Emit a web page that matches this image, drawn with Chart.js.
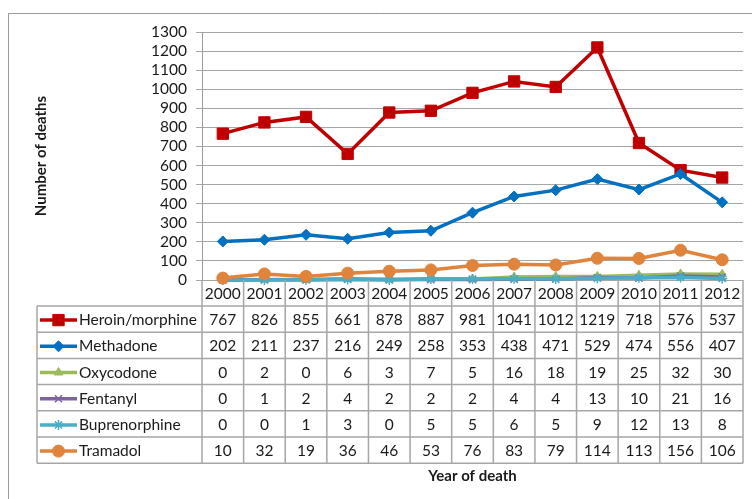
<!DOCTYPE html>
<html>
<head>
<meta charset="utf-8">
<script src="https://cdn.jsdelivr.net/npm/chart.js@4"></script>
<style>
  body { margin: 0; background: #fff; }
  canvas { display: block; }
</style>
</head>
<body>
<canvas id="deathsChart" width="752" height="499"></canvas>
<script>
const years = ['2000', '2001', '2002', '2003', '2004', '2005', '2006', '2007', '2008', '2009', '2010', '2011', '2012'];
const heroin = [767, 826, 855, 661, 878, 887, 981, 1041, 1012, 1219, 718, 576, 537];
const methadone = [202, 211, 237, 216, 249, 258, 353, 438, 471, 529, 474, 556, 407];
const oxycodone = [0, 2, 0, 6, 3, 7, 5, 16, 18, 19, 25, 32, 30];
const fentanyl = [0, 1, 2, 4, 2, 2, 2, 4, 4, 13, 10, 21, 16];
const buprenorphine = [0, 0, 1, 3, 0, 5, 5, 6, 5, 9, 12, 13, 8];
const tramadol = [10, 32, 19, 36, 46, 53, 76, 83, 79, 114, 113, 156, 106];

const seriesNames = ['Heroin/morphine', 'Methadone', 'Oxycodone', 'Fentanyl', 'Buprenorphine', 'Tramadol'];
const seriesValues = [heroin, methadone, oxycodone, fentanyl, buprenorphine, tramadol];
const yMax = 1300;
const yStep = 100;

// Styles
const colors = ['#C00000', '#0070C0', '#9BBB59', '#8064A2', '#4BACC6', '#E0843C'];
const markers = ['rect', 'rectRot', 'triangle', 'crossRot', 'star', 'circle'];
const radii = [8, 5.5, 5, 5, 5, 6];

const FONT = 'Lato, "Open Sans", sans-serif';
const TEXT = '#1a1a1a';
const LINE = '#a6a6a6';

function drawMarker(ctx, i, x, y) {
  ctx.fillStyle = colors[i];
  ctx.strokeStyle = colors[i];
  ctx.lineWidth = (markers[i] === 'crossRot' || markers[i] === 'star') ? 1.5 : 1;
  Chart.helpers.drawPoint(ctx, {
    pointStyle: markers[i], radius: radii[i], rotation: 0, borderWidth: ctx.lineWidth
  }, x, y);
}

// Frame, axis titles and the data table under the plot
const tablePlugin = {
  id: 'dataTable',
  beforeDraw(chart) {
    const ctx = chart.ctx;
    ctx.save();
    ctx.fillStyle = '#fff';
    ctx.fillRect(0, 0, chart.width, chart.height);
    ctx.strokeStyle = '#9a9a9a';
    ctx.lineWidth = 1;
    ctx.beginPath();
    ctx.moveTo(8.5, chart.height);
    ctx.lineTo(8.5, 13.5);
    ctx.lineTo(chart.width, 13.5);
    ctx.stroke();
    ctx.restore();
  },
  afterDraw(chart) {
    const {ctx, chartArea} = chart;
    const x = chart.scales.x;
    const colW = (chartArea.right - chartArea.left) / years.length;
    const headTop = chartArea.bottom;
    const headBottom = 306;
    const rowH = 26.2;
    const tableLeft = 37;
    const tableBottom = headBottom + rowH * seriesNames.length;

    ctx.save();
    ctx.strokeStyle = LINE;
    ctx.lineWidth = 1.5;
    ctx.beginPath();
    // column separators
    for (let i = 0; i <= years.length; i++) {
      const bx = chartArea.left + i * colW;
      ctx.moveTo(bx, headTop);
      ctx.lineTo(bx, tableBottom);
    }
    ctx.moveTo(tableLeft, headBottom);
    ctx.lineTo(tableLeft, tableBottom);
    // row lines
    for (let r = 0; r <= seriesNames.length; r++) {
      const ry = headBottom + r * rowH;
      ctx.moveTo(tableLeft, ry);
      ctx.lineTo(chartArea.right, ry);
    }
    ctx.stroke();

    ctx.font = '15.5px ' + FONT;
    ctx.fillStyle = TEXT;
    ctx.textBaseline = 'middle';
    ctx.textAlign = 'center';
    years.forEach((yr, i) => {
      ctx.fillText(yr, x.getPixelForValue(i), (headTop + headBottom) / 2 + 1);
    });

    seriesNames.forEach((name, r) => {
      const cy = headBottom + r * rowH + rowH / 2 + 1;
      // legend key
      ctx.strokeStyle = colors[r];
      ctx.lineWidth = 3.5;
      ctx.beginPath();
      ctx.moveTo(40, cy);
      ctx.lineTo(77, cy);
      ctx.stroke();
      drawMarker(ctx, r, 58.5, cy);

      ctx.fillStyle = TEXT;
      ctx.textAlign = 'left';
      ctx.fillText(name, 79, cy);
      ctx.textAlign = 'center';
      seriesValues[r].forEach((v, i) => {
        ctx.fillText(String(v), x.getPixelForValue(i), cy);
      });
    });

    // axis titles
    ctx.font = 'bold 15px ' + FONT;
    ctx.fillStyle = TEXT;
    ctx.textAlign = 'center';
    ctx.fillText('Year of death', (chartArea.left + chartArea.right) / 2, 476);
    ctx.translate(41, (chartArea.top + chartArea.bottom) / 2);
    ctx.rotate(-Math.PI / 2);
    ctx.fillText('Number of deaths', 0, 0);
    ctx.restore();
  }
};

const datasets = seriesNames.map((name, i) => ({
  label: name,
  data: seriesValues[i],
  borderColor: colors[i],
  backgroundColor: colors[i],
  borderWidth: 3.5,
  pointStyle: markers[i],
  pointRadius: radii[i],
  pointBorderWidth: (markers[i] === 'crossRot' || markers[i] === 'star') ? 1.5 : 1,
  pointBorderColor: colors[i],
  pointBackgroundColor: colors[i],
  tension: 0,
  clip: false,
  order: seriesNames.length - i
}));

const config = {
  type: 'line',
  data: { labels: years, datasets: datasets },
  options: {
    responsive: false,
    animation: false,
    layout: { padding: { left: 0, top: 32, right: 6, bottom: 219 } },
    plugins: {
      legend: { display: false },
      tooltip: { enabled: false }
    },
    scales: {
      x: {
        display: false,
        offset: true
      },
      y: {
        min: 0,
        max: yMax,
        afterFit(scale) { scale.width = 202; },
        ticks: {
          stepSize: yStep,
          autoSkip: false,
          padding: 9,
          color: TEXT,
          font: { family: FONT, size: 15.5 },
          callback: (v) => String(v)
        },
        grid: { color: LINE, lineWidth: 1, tickLength: 6 },
        border: { display: true, color: '#9a9a9a', width: 1 }
      }
    }
  },
  plugins: [tablePlugin]
};

const deathsChart = new Chart(document.getElementById('deathsChart'), config);
</script>
</body>
</html>
